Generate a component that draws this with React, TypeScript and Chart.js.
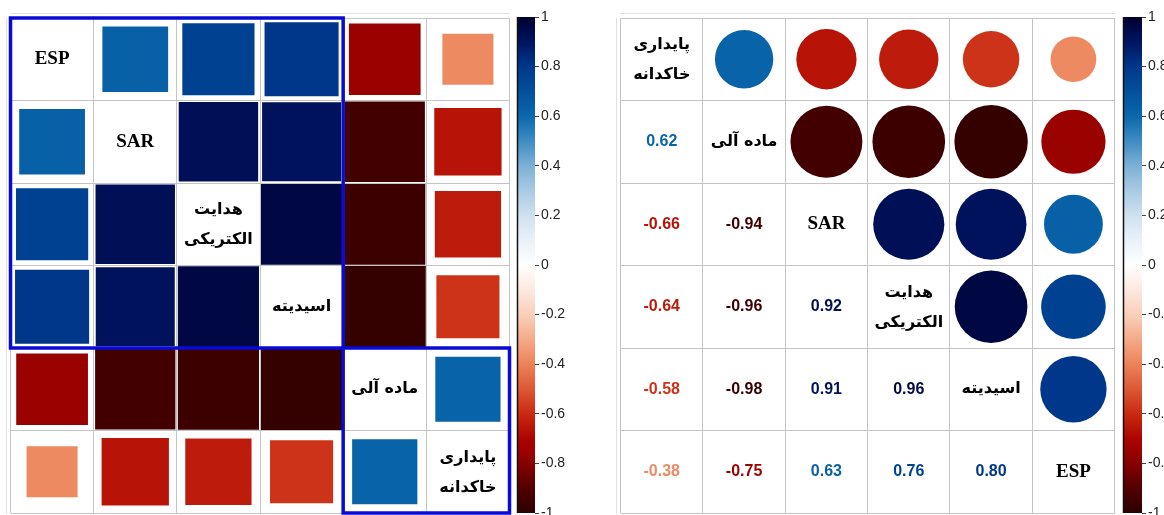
import React, { useEffect, useRef } from 'react';
import { Chart, registerables } from 'chart.js';

Chart.register(...registerables);

// ---------------- data ----------------
const variableNames = ['ESP', 'SAR', 'هدایت\nالکتریکی', 'اسیدیته', 'ماده آلی', 'پایداری\nخاکدانه'];

// correlation rows, column order: ESP, SAR, EC, pH, OM, AS
const corrESP = [1, 0.63, 0.76, 0.8, -0.75, -0.38];
const corrSAR = [0.63, 1, 0.92, 0.91, -0.94, -0.66];
const corrEC = [0.76, 0.92, 1, 0.96, -0.96, -0.64];
const corrPH = [0.8, 0.91, 0.96, 1, -0.98, -0.58];
const corrOM = [-0.75, -0.94, -0.96, -0.98, 1, 0.62];
const corrAS = [-0.38, -0.66, -0.64, -0.58, 0.62, 1];
const corrMatrix = [corrESP, corrSAR, corrEC, corrPH, corrOM, corrAS];

const orderLeft = [0, 1, 2, 3, 4, 5];
const orderRight = [5, 4, 1, 2, 3, 0];
const clusterBoxes = [
  [0, 4],
  [4, 6],
];
const colorbarTicks = [-1, -0.8, -0.6, -0.4, -0.2, 0, 0.2, 0.4, 0.6, 0.8, 1];

// ---------------- palette ----------------
const paletteStops: [number, string][] = [
  [-1.0, '#2d0000'],
  [-0.9, '#520000'],
  [-0.8, '#870000'],
  [-0.7, '#ac0400'],
  [-0.6, '#c92a12'],
  [-0.5, '#dc5835'],
  [-0.4, '#ec8258'],
  [-0.3, '#f4aa88'],
  [-0.2, '#f9cfbb'],
  [-0.1, '#fde9df'],
  [0, '#ffffff'],
  [0.1, '#e9f1f8'],
  [0.2, '#cfe1ef'],
  [0.3, '#a9cae3'],
  [0.4, '#7db0d5'],
  [0.5, '#3f8cc3'],
  [0.6, '#0a68ab'],
  [0.7, '#03509c'],
  [0.8, '#00378b'],
  [0.9, '#001460'],
  [1.0, '#000030'],
];

function hexToRgb(h: string) {
  return [parseInt(h.slice(1, 3), 16), parseInt(h.slice(3, 5), 16), parseInt(h.slice(5, 7), 16)];
}

function colorFor(v: number) {
  const t = Math.max(-1, Math.min(1, v));
  for (let i = 0; i < paletteStops.length - 1; i++) {
    const [a, ca] = paletteStops[i];
    const [b, cb] = paletteStops[i + 1];
    if (t >= a && t <= b) {
      const f = (t - a) / (b - a);
      const A = hexToRgb(ca);
      const B = hexToRgb(cb);
      const c = A.map((x, k) => Math.round(x + (B[k] - x) * f));
      return `rgb(${c[0]},${c[1]},${c[2]})`;
    }
  }
  return paletteStops[paletteStops.length - 1][1];
}

const isArabic = (s: string) => /[\u0600-\u06FF]/.test(s);

function cellSize(chart: any) {
  const x = chart.scales.x;
  const y = chart.scales.y;
  const w = Math.abs(x.getPixelForValue(1) - x.getPixelForValue(0));
  const h = Math.abs(y.getPixelForValue(1) - y.getPixelForValue(0));
  return (w + h) / 2;
}

function makeMatrixChart(canvas: HTMLCanvasElement, order: number[], mode: 'square' | 'mixed', pad: any, boxes: number[][]) {
  const n = order.length;
  const points: any[] = [];
  for (let r = 0; r < n; r++) {
    for (let c = 0; c < n; c++) {
      if (r === c) continue;
      if (mode === 'square' || c > r) {
        points.push({ x: c + 0.5, y: r + 0.5, v: corrMatrix[order[r]][order[c]] });
      }
    }
  }

  const textPlugin = {
    id: 'cellText',
    afterDraw(chart: any) {
      const { ctx } = chart;
      const x = chart.scales.x;
      const y = chart.scales.y;
      ctx.save();
      ctx.textAlign = 'center';
      ctx.textBaseline = 'middle';
      for (let r = 0; r < n; r++) {
        for (let c = 0; c < n; c++) {
          const cx = x.getPixelForValue(c + 0.5);
          const cy = y.getPixelForValue(r + 0.5);
          if (r === c) {
            const name = variableNames[order[r]];
            const lines = name.split('\n');
            ctx.fillStyle = '#000';
            lines.forEach((ln, i) => {
              if (isArabic(ln)) {
                ctx.font = 'bold 16px "DejaVu Sans"';
                ctx.direction = 'rtl';
              } else {
                ctx.font = 'bold 19px "Liberation Serif"';
                ctx.direction = 'ltr';
              }
              const off = lines.length === 1 ? 0 : i === 0 ? -14 : 16;
              ctx.fillText(ln, cx, cy + off);
            });
            ctx.direction = 'ltr';
          } else if (mode === 'mixed' && c < r) {
            const v = corrMatrix[order[r]][order[c]];
            ctx.font = 'bold 16px "Liberation Sans"';
            ctx.fillStyle = colorFor(v);
            ctx.fillText(v.toFixed(2), cx, cy);
          }
        }
      }
      ctx.strokeStyle = '#0a0ad6';
      ctx.lineWidth = 3.5;
      boxes.forEach(([a, b]) => {
        const x0 = x.getPixelForValue(a);
        const x1 = x.getPixelForValue(b);
        const y0 = y.getPixelForValue(a);
        const y1 = y.getPixelForValue(b);
        ctx.strokeRect(x0, y0, x1 - x0, y1 - y0);
      });
      ctx.restore();
    },
  };

  const axis = (reverse: boolean) => ({
    type: 'linear',
    min: 0,
    max: n,
    reverse,
    ticks: { display: false, stepSize: 1 },
    grid: { color: '#c4c4c4', drawTicks: false, z: 1, lineWidth: 1 },
    border: { display: true, color: '#c4c4c4', width: 1 },
  });

  return new Chart(canvas, {
    type: 'scatter',
    data: {
      datasets: [
        {
          data: points,
          pointStyle: mode === 'square' ? 'rect' : 'circle',
          borderWidth: 0,
          pointBorderWidth: 0,
          backgroundColor: (ctx: any) => (ctx.raw ? colorFor(ctx.raw.v) : '#000'),
          pointRadius: (ctx: any) => {
            if (!ctx.raw) return 0;
            const cs = cellSize(ctx.chart);
            const s = Math.sqrt(Math.abs(ctx.raw.v));
            return mode === 'square' ? (s * cs) / Math.SQRT2 : 0.45 * s * cs;
          },
        },
      ],
    },
    options: {
      animation: false,
      responsive: false,
      events: [],
      layout: { padding: pad },
      plugins: { legend: { display: false }, tooltip: { enabled: false } },
      scales: { x: axis(false), y: axis(true) },
    } as any,
    plugins: [textPlugin],
  } as any);
}

function makeColorbar(canvas: HTMLCanvasElement, barWidth: number) {
  const gradPlugin = {
    id: 'gradBar',
    beforeDatasetsDraw(chart: any) {
      const { ctx, chartArea } = chart;
      const y = chart.scales.y;
      const top = y.getPixelForValue(1);
      const bot = y.getPixelForValue(-1);
      const g = ctx.createLinearGradient(0, top, 0, bot);
      paletteStops.forEach(([v, c]) => g.addColorStop((1 - v) / 2, c));
      ctx.save();
      ctx.fillStyle = g;
      ctx.fillRect(chartArea.left, top, chartArea.right - chartArea.left, bot - top);
      ctx.strokeStyle = '#111';
      ctx.lineWidth = 1.5;
      ctx.beginPath();
      ctx.moveTo(chartArea.left + 0.5, top);
      ctx.lineTo(chartArea.left + 0.5, bot);
      ctx.stroke();
      ctx.restore();
    },
  };
  return new Chart(canvas, {
    type: 'scatter',
    data: { datasets: [] },
    options: {
      animation: false,
      responsive: false,
      events: [],
      layout: { padding: { left: 5, top: 17, bottom: 2, right: 0 } },
      plugins: { legend: { display: false }, tooltip: { enabled: false } },
      scales: {
        x: { display: false, min: 0, max: 1 },
        y: {
          position: 'right',
          min: -1,
          max: 1,
          afterBuildTicks: (s: any) => {
            s.ticks = colorbarTicks.map((v) => ({ value: v }));
          },
          afterFit: (s: any) => {
            s.width = 64 - 5 - barWidth;
            s.paddingTop = 0;
            s.paddingBottom = 0;
          },
          ticks: {
            font: { family: '"Liberation Sans"', size: 14 },
            color: '#222',
            padding: 2,
            callback: (v: number) => String(Number(v.toFixed(1))),
          },
          grid: { drawOnChartArea: false, tickLength: 4, color: '#444' },
          border: { display: false },
        },
      },
    } as any,
    plugins: [gradPlugin],
  } as any);
}

export default function App() {
  const leftRef = useRef<HTMLCanvasElement>(null);
  const rightRef = useRef<HTMLCanvasElement>(null);
  const cbLeftRef = useRef<HTMLCanvasElement>(null);
  const cbRightRef = useRef<HTMLCanvasElement>(null);

  useEffect(() => {
    const charts = [
      makeMatrixChart(leftRef.current!, orderLeft, 'square', { left: 4.5, right: 4.5, top: 5, bottom: 4 }, clusterBoxes),
      makeMatrixChart(rightRef.current!, orderRight, 'mixed', { left: 4.6, right: 5.4, top: 5, bottom: 4 }, []),
      makeColorbar(cbLeftRef.current!, 18),
      makeColorbar(cbRightRef.current!, 19),
    ];
    return () => charts.forEach((c) => c.destroy());
  }, []);

  const abs = (left: number, top: number, w: number, h: number) => ({
    position: 'absolute' as const,
    left,
    top,
    width: w,
    height: h,
  });

  return (
    <div
      style={{
        position: 'fixed',
        left: 0,
        top: 0,
        width: 1164,
        height: 515,
        overflow: 'hidden',
        background: '#fff',
      }}
    >
      <canvas ref={leftRef} width={508} height={504} style={abs(6, 13, 508, 504)} />
      <canvas ref={cbLeftRef} width={64} height={515} style={abs(512, 0, 64, 515)} />
      <canvas ref={rightRef} width={504} height={504} style={abs(616, 13, 504, 504)} />
      <canvas ref={cbRightRef} width={64} height={515} style={abs(1118, 0, 64, 515)} />
    </div>
  );
}
